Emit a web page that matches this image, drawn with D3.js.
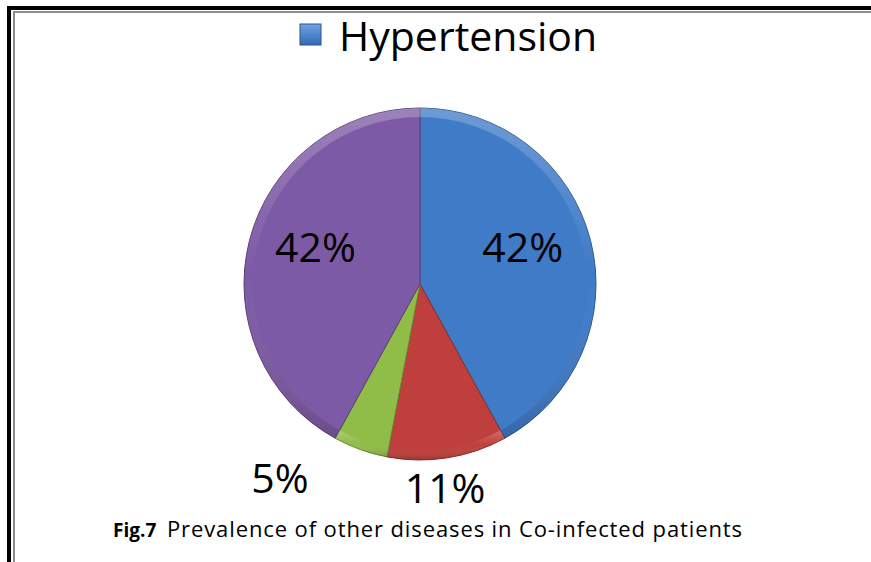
<!DOCTYPE html>
<html>
<head>
<meta charset="utf-8">
<script src="https://cdn.jsdelivr.net/npm/d3@7"></script>
<style>
  body { margin: 0; background: #fff; }
  svg { display: block; font-family: "Open Sans", sans-serif; }
</style>
</head>
<body>
<svg width="871" height="562"></svg>
<script>
// Chart data
const categories = ["Hypertension", "Diabetes", "Asthma", "Other"];
const values = [42, 11, 5, 42];
const labels = ["42%", "11%", "5%", "42%"];
const colors = ["#4282d2", "#c8423e", "#98c64c", "#845fae"];
const legendShown = ["Hypertension"];
const caption = { bold: "Fig.7", rest: "Prevalence of other diseases in Co-infected patients" };

const width = 871, height = 562;
const cx = 420, cy = 284, radius = 176;

const svg = d3.select("svg");
const defs = svg.append("defs");

// page border (thick black + thin grey, left and top)
svg.append("rect").attr("x", 7).attr("y", 6).attr("width", 4).attr("height", height - 6).attr("fill", "#000");
svg.append("rect").attr("x", 7).attr("y", 6).attr("width", width - 7).attr("height", 4).attr("fill", "#000");
svg.append("rect").attr("x", 13).attr("y", 11).attr("width", 2).attr("height", height - 11).attr("fill", "#8c8c8c");
svg.append("rect").attr("x", 13).attr("y", 11).attr("width", width - 13).attr("height", 2).attr("fill", "#8c8c8c");

// gradients for each slice
colors.forEach((c, i) => {
  const g = defs.append("radialGradient").attr("id", "grad" + i)
    .attr("gradientUnits", "userSpaceOnUse")
    .attr("cx", cx).attr("cy", cy).attr("r", radius);
  g.append("stop").attr("offset", "0%").attr("stop-color", d3.color(c).darker(0.05));
  g.append("stop").attr("offset", "90%").attr("stop-color", c);
  g.append("stop").attr("offset", "100%").attr("stop-color", d3.color(c).darker(0.15));
});
const bevel = defs.append("linearGradient").attr("id", "bevel")
  .attr("x1", 0).attr("y1", 0).attr("x2", 0).attr("y2", 1);
bevel.append("stop").attr("offset", "0%").attr("stop-color", "#fff").attr("stop-opacity", 0.3);
bevel.append("stop").attr("offset", "50%").attr("stop-color", "#fff").attr("stop-opacity", 0);
bevel.append("stop").attr("offset", "100%").attr("stop-color", "#000").attr("stop-opacity", 0.2);

const legendGrad = defs.append("linearGradient").attr("id", "legendGrad")
  .attr("x1", 0).attr("y1", 0).attr("x2", 0).attr("y2", 1);
legendGrad.append("stop").attr("offset", "0%").attr("stop-color", "#6fa3e6");
legendGrad.append("stop").attr("offset", "100%").attr("stop-color", "#3369b4");

// pie
const pie = d3.pie().sort(null).value(d => d);
const arcs = pie(values);
const arc = d3.arc().innerRadius(0).outerRadius(radius);
const rim = d3.arc().innerRadius(radius - 9).outerRadius(radius);

const g = svg.append("g").attr("transform", `translate(${cx},${cy})`);

g.selectAll(".slice")
  .data(arcs)
  .enter()
  .append("path")
  .attr("class", "slice")
  .attr("d", arc)
  .attr("fill", (d, i) => `url(#grad${i})`)
  .attr("stroke", (d, i) => d3.color(colors[i]).darker(1.1))
  .attr("stroke-width", 1);

g.selectAll(".rim")
  .data(arcs)
  .enter()
  .append("path")
  .attr("class", "rim")
  .attr("d", rim)
  .attr("fill", "url(#bevel)")
  .attr("opacity", 0.8);

// label placement: radius factor and angle nudge (degrees) per slice
const labelPlace = [
  { k: 0.62, da: -5.4 },
  { k: 1.17, da: 2 },
  { k: 1.36, da: 16 },
  { k: 0.63, da: 5 }
];

svg.append("g")
  .selectAll("text")
  .data(arcs)
  .enter()
  .append("text")
  .attr("x", (d, i) => {
    const a = (d.startAngle + d.endAngle) / 2 + labelPlace[i].da * Math.PI / 180;
    return cx + Math.sin(a) * radius * labelPlace[i].k;
  })
  .attr("y", (d, i) => {
    const a = (d.startAngle + d.endAngle) / 2 + labelPlace[i].da * Math.PI / 180;
    return cy - Math.cos(a) * radius * labelPlace[i].k;
  })
  .attr("dy", "0.36em")
  .attr("text-anchor", "middle")
  .style("font-size", "41px")
  .attr("fill", "#000")
  .text((d, i) => labels[i]);

// legend
const legend = svg.append("g");
legend.append("rect")
  .attr("x", 300).attr("y", 24).attr("width", 21).attr("height", 21)
  .attr("fill", "url(#legendGrad)")
  .attr("stroke", "#2a5590").attr("stroke-width", 1);
legend.append("text")
  .attr("x", 339).attr("y", 51)
  .style("font-size", "41px")
  .attr("fill", "#000")
  .text(legendShown[0]);

// caption
svg.append("text")
  .attr("x", 113).attr("y", 537)
  .style("font-size", "19px")
  .style("font-weight", "bold")
  .attr("fill", "#000")
  .text(caption.bold);
svg.append("text")
  .attr("x", 167).attr("y", 537)
  .attr("textLength", 575)
  .attr("lengthAdjust", "spacing")
  .style("font-size", "22px")
  .attr("fill", "#000")
  .text(caption.rest);
</script>
</body>
</html>
